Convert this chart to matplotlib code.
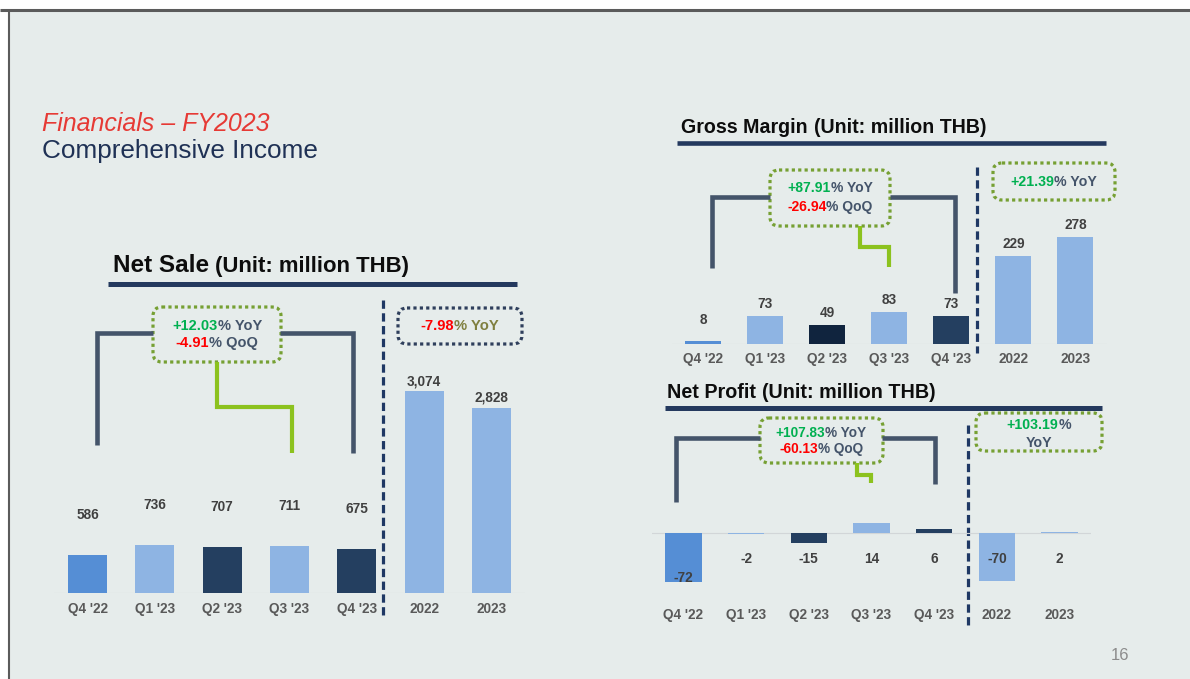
import matplotlib
matplotlib.use("Agg")
import matplotlib.pyplot as plt
from matplotlib.patches import FancyBboxPatch, Rectangle

plt.rcParams['font.family'] = ['Liberation Sans', 'DejaVu Sans']

# data
periods = ["Q4 '22", "Q1 '23", "Q2 '23", "Q3 '23", "Q4 '23", "2022", "2023"]
net_sale = [586, 736, 707, 711, 675, 3074, 2828]
gross_margin = [8, 73, 49, 83, 73, 229, 278]
net_profit = [-72, -2, -15, 14, 6, -70, 2]

ns_yoy, ns_qoq, ns_fy = "+12.03", "-4.91", "-7.98"
gm_yoy, gm_qoq, gm_fy = "+87.91", "-26.94", "+21.39"
np_yoy, np_qoq, np_fy = "+107.83", "-60.13", "+103.19"

# colours
BG = '#E6ECEB'
SLATE = '#44546A'
GREEN = '#00B050'
RED = '#FF0000'
OLIVE = '#7F7F3F'
LIME = '#8CC21E'
DOT_GREEN = '#76A033'
ns_colors = ['#558ED5', '#8EB4E3', '#243F60', '#8EB4E3', '#243F60', '#8EB4E3', '#8EB4E3']
gm_colors = ['#558ED5', '#8EB4E3', '#10243E', '#8EB4E3', '#243F60', '#8EB4E3', '#8EB4E3']
np_colors = ['#558ED5', '#8EB4E3', '#243F60', '#8EB4E3', '#243F60', '#8EB4E3', '#8EB4E3']

W, H = 1190, 679
fig = plt.figure(figsize=(W / 100, H / 100), dpi=100, facecolor='white')

# overlay in pixel coordinates (y down) for slide decorations
ov = fig.add_axes([0, 0, 1, 1])
ov.set_xlim(0, W)
ov.set_ylim(H, 0)
ov.axis('off')
ov.set_zorder(0)

ov.add_patch(Rectangle((9, 10), W - 9, H - 10, fc=BG, ec='none'))
ov.plot([0, W], [10, 10], color='#5B5B5B', lw=2.2, solid_capstyle='butt')
ov.plot([9, 9], [10, H], color='#5B5B5B', lw=1.5, solid_capstyle='butt')

ov.text(42, 131, 'Financials – FY2023', color='#E63A35', style='italic',
        fontsize=18, va='baseline')
ov.text(42, 158, 'Comprehensive Income', color='#1F3155', fontsize=18.8,
        va='baseline')
ov.text(1120, 655, '16', color='#8C8C8C', fontsize=12, ha='center', va='center')

renderer = fig.canvas.get_renderer()


def color_line(cx, cy, parts, size=10):
    ts = [ov.text(0, cy, s, color=c, fontsize=size, fontweight='bold',
                  va='center', ha='left') for s, c in parts]
    ws = [t.get_window_extent(renderer).width for t in ts]
    cur = cx - sum(ws) / 2
    for t, w in zip(ts, ws):
        t.set_x(cur)
        cur += w


def title(x, y, big, small, size_big, size_small, ul):
    t = ov.text(x, y, big, fontsize=size_big, fontweight='bold',
                color='#0D0D0D', va='baseline')
    w = t.get_window_extent(renderer).width
    ov.text(x + w + 6, y, small, fontsize=size_small, fontweight='bold',
            color='#0D0D0D', va='baseline')
    ov.plot(ul[:2], [ul[2], ul[2]], color='#24395E', lw=ul[3],
            solid_capstyle='butt')


def box(x0, y0, x1, y1, ec):
    ov.add_patch(FancyBboxPatch((x0, y0), x1 - x0, y1 - y0,
                                boxstyle='round,pad=0,rounding_size=9',
                                fc=BG, ec=ec, lw=2.3, ls=(0, (1, 1))))


def path(xs, ys, color, lw):
    ov.plot(xs, ys, color=color, lw=lw, solid_capstyle='butt',
            solid_joinstyle='miter')


def separator(x, y0, y1):
    ov.plot([x, x], [y0, y1], color='#1F3864', lw=2.3, dashes=(2.6, 1.4))


def panel(rect, ylim, values, colors, pad):
    x0, y0, x1, y1 = rect
    ax = fig.add_axes([x0 / W, 1 - y1 / H, (x1 - x0) / W, (y1 - y0) / H])
    ax.set_zorder(1)
    ax.patch.set_alpha(0)
    ax.bar(range(len(values)), values, width=0.58, color=colors, zorder=2)
    ax.axhline(0, color='#D2D6D8', lw=0.8, zorder=1)
    ax.set_xlim(-0.5, 6.5)
    ax.set_ylim(*ylim)
    ax.set_xticks(range(len(periods)))
    ax.set_xticklabels(periods, fontsize=9.8, fontweight='bold', color='#595959')
    ax.tick_params(axis='x', length=0, pad=pad)
    ax.set_yticks([])
    for s in ax.spines.values():
        s.set_visible(False)
    return ax


lab = dict(ha='center', va='center', fontsize=9.8, fontweight='bold',
           color='#404040')

# ---- Net Sale
title(113, 272, 'Net Sale', '(Unit: million THB)', 17.5, 15.9, (108, 517, 284, 3.6))
ax1 = panel((54, 300, 525, 593), (0, 293 * 15.25), net_sale, ns_colors, 6.5)
for i, v in enumerate(net_sale):
    off = 40 if i < 5 else 10
    ax1.annotate(f"{v:,}", (i, v), xytext=(0, off), textcoords='offset pixels', **lab)
separator(383, 300, 615)
path([97, 97, 153], [445, 333, 333], SLATE, 3.3)
path([280, 353, 353], [333, 333, 453], SLATE, 3.3)
path([217, 217, 292, 292], [362, 407, 407, 453], LIME, 3)
box(153, 307, 281, 362, DOT_GREEN)
color_line(217, 326, [(ns_yoy, GREEN), ('% YoY', SLATE)], 10.5)
color_line(217, 343, [(ns_qoq, RED), ('% QoQ', SLATE)], 10.5)
box(398, 308, 522, 344, '#2F3F5C')
color_line(460, 326, [(ns_fy, RED), ('% YoY', OLIVE)], 10.6)

# ---- Gross Margin
title(681, 133, 'Gross Margin', '(Unit: million THB)', 14.1, 14.1, (677, 1106, 143, 3.3))
ax2 = panel((672, 160, 1106.5, 344), (0, 184 * 2.6), gross_margin, gm_colors, 5.5)
for i, v in enumerate(gross_margin):
    ax2.annotate(f"{v:,}", (i, max(v, 30)), xytext=(0, 12),
                 textcoords='offset pixels', **lab)
separator(977, 167, 353)
path([712, 712, 770], [268, 197, 197], SLATE, 3.3)
path([890, 955, 955], [197, 197, 293], SLATE, 3.3)
path([860, 860, 889, 889], [226, 247, 247, 267], LIME, 3)
box(770, 170, 890, 226, DOT_GREEN)
color_line(830, 188, [(gm_yoy, GREEN), ('% YoY', SLATE)], 10)
color_line(830, 207, [(gm_qoq, RED), ('% QoQ', SLATE)], 10)
box(993, 163, 1115, 200, DOT_GREEN)
color_line(1054, 182, [(gm_fy, GREEN), ('% YoY', SLATE)], 10.2)

# ---- Net Profit
title(667, 398, 'Net Profit', '(Unit: million THB)', 14.2, 14.2, (665, 1102, 408, 3.6))
ax3 = panel((652, 420, 1091, 599), (-66 * 1.47, 113 * 1.47), net_profit, np_colors, 6.5)
for i, v in enumerate(net_profit):
    y = min(-38, v + 6) if i < 5 else -38
    ax3.text(i, y, f"{v:,}", **lab)
separator(968, 425, 628)
path([676, 676, 760], [502, 438, 438], SLATE, 3.3)
path([882, 935, 935], [438, 438, 484], SLATE, 3.3)
path([857, 857, 871, 871], [463, 475, 475, 483], LIME, 3)
box(760, 418, 883, 463, DOT_GREEN)
color_line(821, 433, [(np_yoy, GREEN), ('% YoY', SLATE)], 9.8)
color_line(821, 449, [(np_qoq, RED), ('% QoQ', SLATE)], 9.8)
box(976, 413, 1102, 451, DOT_GREEN)
color_line(1039, 425, [(np_fy, GREEN), ('%', SLATE)], 10.2)
color_line(1039, 443, [('YoY', SLATE)], 10.2)

fig.savefig('out.png', dpi=100, facecolor='white')
